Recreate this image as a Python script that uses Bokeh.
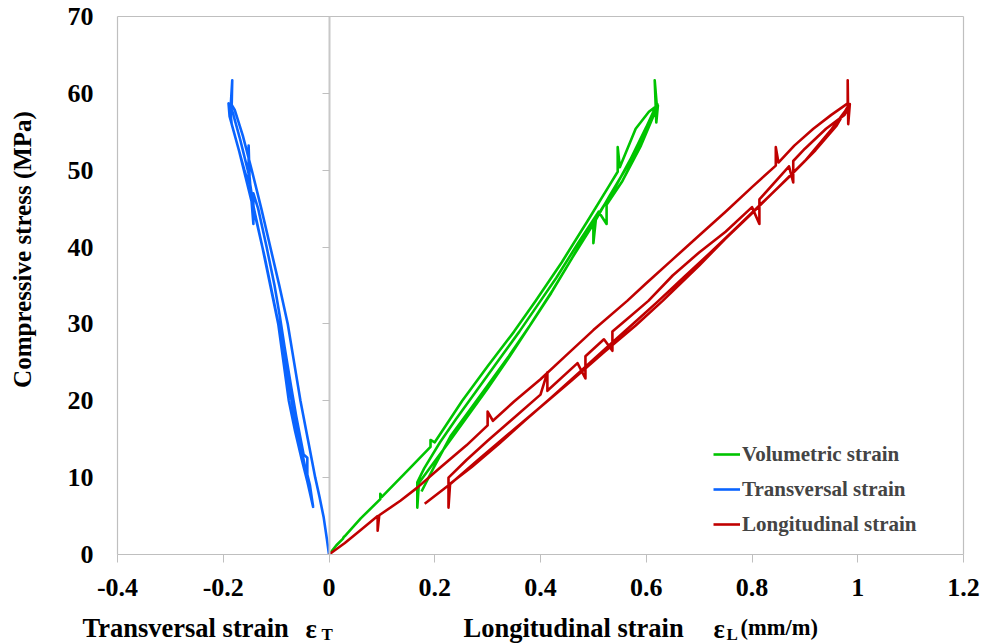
import math
from bokeh.plotting import figure
from bokeh.models import (FixedTicker, LinearAxis, Label, Legend, LegendItem,
                          Range1d)
from bokeh.embed import file_html
from bokeh.resources import INLINE

FONT = "Liberation Serif"
GRAY = "#BFBFBF"

# ---------------- data ----------------
x_ticks = [-0.4, -0.2, 0, 0.2, 0.4, 0.6, 0.8, 1.0, 1.2]
x_tick_labels = ["-0.4", "-0.2", "0", "0.2", "0.4", "0.6", "0.8", "1", "1.2"]
y_ticks = [0, 10, 20, 30, 40, 50, 60, 70]
y_tick_labels = ["0", "10", "20", "30", "40", "50", "60", "70"]

series_names = ["Volumetric strain", "Transversal strain", "Longitudinal strain"]
series_colors = ["#00C400", "#0A64FF", "#C00000"]

# Volumetric strain (load / unload cycles)
vol_x = [0, 0.014, 0.027, 0.027, 0.03, 0.06, 0.097, 0.097, 0.10, 0.154, 0.192, 0.192, 0.20,
         0.252, 0.30, 0.35, 0.391, 0.44, 0.489, 0.53, 0.546, 0.546, 0.55, 0.58, 0.605, 0.62,
         0.616, 0.619, 0.622,
         0.612, 0.59, 0.555, 0.525, 0.525, 0.51, 0.47, 0.43, 0.40, 0.36, 0.32, 0.28, 0.24,
         0.21, 0.18, 0.167, 0.167, 0.17,
         0.19, 0.22, 0.26, 0.30, 0.34, 0.38, 0.42, 0.46, 0.500, 0.500, 0.505, 0.54, 0.57,
         0.60, 0.618,
         0.621, 0.60, 0.57, 0.53, 0.50, 0.46, 0.423, 0.38, 0.34, 0.300, 0.26, 0.230, 0.198,
         0.175]
vol_y = [0, 1.2, 2.1, 2.2, 2.4, 4.7, 7.2, 7.9, 7.5, 11.3, 14.0, 14.9, 14.6,
         20.0, 24.5, 29.0, 33.0, 38.0, 43.4, 48.0, 49.8, 53.0, 50.4, 55.4, 57.6, 58.4,
         61.7, 56.2, 58.4,
         56.8, 53.2, 48.6, 45.5, 43.0, 44.6, 40.4, 36.0, 33.0, 29.0, 25.2, 21.4, 17.6,
         14.6, 11.2, 9.4, 6.1, 9.3,
         11.2, 14.0, 17.8, 21.6, 25.6, 29.8, 34.0, 38.6, 43.2, 40.5, 43.8, 47.6, 51.4,
         55.6, 58.3,
         58.6, 55.0, 51.2, 46.6, 43.0, 38.6, 34.4, 29.8, 25.8, 22.0, 18.2, 15.4, 11.3,
         8.2]

# Transversal strain
tra_x = [0, -0.004, -0.010, -0.018, -0.026, -0.040, -0.054, -0.066, -0.078, -0.094,
         -0.111, -0.128, -0.146, -0.163, -0.178, -0.184, -0.183, -0.186, -0.190,
         -0.188, -0.176, -0.160, -0.152, -0.152, -0.150, -0.142, -0.126, -0.111, -0.096,
         -0.086, -0.076, -0.064, -0.052, -0.041, -0.030,
         -0.036, -0.041, -0.041, -0.048, -0.062, -0.072, -0.084, -0.093, -0.103, -0.118,
         -0.134, -0.143, -0.143, -0.150, -0.168, -0.182, -0.188,
         -0.184, -0.170, -0.152, -0.136, -0.121, -0.106, -0.091, -0.080, -0.068, -0.056,
         -0.044, -0.034]
tra_y = [0, 2.0, 4.8, 7.5, 10.0, 15.0, 20.0, 25.0, 30.0, 35.0,
         40.0, 45.0, 50.0, 54.5, 57.8, 58.5, 61.7, 58.2, 58.7,
         57.0, 54.0, 50.0, 48.3, 53.2, 48.6, 45.0, 40.0, 35.0, 30.0,
         25.0, 20.0, 16.0, 12.5, 9.5, 6.2,
         9.0, 10.4, 12.6, 13.0, 18.0, 22.0, 27.0, 31.0, 35.0, 40.0,
         45.0, 47.0, 43.0, 49.0, 54.0, 57.5, 58.4,
         56.0, 52.5, 47.5, 43.0, 38.5, 33.5, 28.5, 23.5, 19.0, 15.0,
         11.0, 7.5]

# Longitudinal strain
lon_x = [0, 0.03, 0.06, 0.092, 0.092, 0.095, 0.135, 0.167, 0.21, 0.26, 0.30, 0.30, 0.31,
         0.35, 0.40, 0.45, 0.50, 0.564, 0.60, 0.65, 0.70, 0.75, 0.80, 0.845, 0.845, 0.85,
         0.88, 0.916, 0.95, 0.981, 0.981, 0.982, 0.985,
         0.975, 0.94, 0.90, 0.878, 0.878, 0.87, 0.814, 0.814, 0.80, 0.75, 0.70, 0.65, 0.604,
         0.56, 0.536, 0.536, 0.52, 0.485, 0.485, 0.47, 0.413, 0.413, 0.40, 0.35, 0.30, 0.26,
         0.226, 0.226, 0.229,
         0.27, 0.32, 0.37, 0.42, 0.47, 0.52, 0.57, 0.62, 0.67, 0.72, 0.77, 0.82, 0.87,
         0.92, 0.96, 0.983,
         0.984, 0.95, 0.90, 0.85, 0.80, 0.75, 0.70, 0.631, 0.58, 0.52, 0.46, 0.40, 0.34,
         0.28, 0.23, 0.181]
lon_y = [0, 1.5, 3.2, 5.0, 3.1, 5.1, 7.0, 8.7, 11.3, 14.2, 16.8, 18.6, 17.4,
         19.9, 22.8, 26.0, 29.2, 33.0, 35.3, 38.4, 41.5, 44.6, 47.8, 50.6, 53.0, 51.0,
         53.2, 55.4, 57.2, 58.7, 61.7, 56.0, 58.6,
         57.2, 55.4, 52.8, 51.2, 48.4, 50.5, 46.2, 43.0, 45.2, 42.0, 39.3, 36.3, 33.0,
         30.4, 29.0, 26.5, 28.0, 25.8, 22.9, 24.9, 21.3, 23.7, 20.8, 17.8, 14.8, 12.3,
         10.0, 6.1, 9.2,
         11.4, 14.3, 17.4, 20.4, 23.5, 26.6, 29.7, 32.8, 36.0, 39.2, 42.5, 45.8, 49.1,
         52.6, 55.8, 58.5,
         58.4, 55.3, 51.2, 47.8, 44.4, 41.1, 37.6, 33.0, 29.8, 26.3, 22.7, 19.2, 15.7,
         12.2, 9.2, 6.6]

# ---------------- layout (page pixels of the plot box) ----------------
W, H = 981, 643
BOX_L, BOX_R, BOX_T, BOX_B = 117, 963, 16, 554
X0, X1 = x_ticks[0], x_ticks[-1]
Y0, Y1 = y_ticks[0], y_ticks[-1]
sx = (BOX_R - BOX_L) / (X1 - X0)
sy = (BOX_B - BOX_T) / (Y1 - Y0)

def dx(px):
    return X0 + (px - BOX_L) / sx

def dy(py):
    return Y0 + (BOX_B - py) / sy

p = figure(width=W, height=H,
           x_range=Range1d(dx(0), dx(W)), y_range=Range1d(dy(H), dy(0)),
           output_backend="svg", toolbar_location=None,
           x_axis_location=None, y_axis_location=None,
           min_border_left=0, min_border_right=0, min_border_top=0, min_border_bottom=0)
p.xgrid.visible = False
p.ygrid.visible = False
p.outline_line_color = None
p.background_fill_color = "white"
p.border_fill_color = "white"

label_kw = dict(major_label_text_font=FONT, major_label_text_font_style="bold",
                major_label_text_font_size="26px", major_label_text_color="black")

# bottom axis (y = 0)
xa = LinearAxis(fixed_location=Y0, bounds=(X0, X1),
                ticker=FixedTicker(ticks=x_ticks, minor_ticks=[]),
                major_label_overrides={t: s for t, s in zip(x_ticks, x_tick_labels)},
                major_tick_out=8, major_tick_in=0, major_tick_line_color=GRAY,
                minor_tick_line_color=None, axis_line_color=GRAY, axis_line_width=1.2,
                major_label_standoff=16, **label_kw)
p.add_layout(xa, "below")

# left axis: labels only
ya = LinearAxis(fixed_location=X0, bounds=(Y0, Y1),
                ticker=FixedTicker(ticks=y_ticks, minor_ticks=[]),
                major_label_overrides={t: s for t, s in zip(y_ticks, y_tick_labels)},
                major_tick_out=0, major_tick_in=0, major_tick_line_color=None,
                minor_tick_line_color=None, axis_line_color=GRAY, axis_line_width=1.2,
                major_label_standoff=24, **label_kw)
p.add_layout(ya, "left")

# vertical axis crossing at x = 0 (ticks only)
zax = LinearAxis(fixed_location=0, bounds=(Y0, Y1),
                 ticker=FixedTicker(ticks=y_ticks, minor_ticks=[]),
                 major_label_overrides={t: "" for t in y_ticks},
                 major_tick_out=7, major_tick_in=0, major_tick_line_color=GRAY,
                 minor_tick_line_color=None, axis_line_color="#C8C8C8",
                 axis_line_width=2)
p.add_layout(zax, "left")

# top and right edges of the plot box
top = LinearAxis(fixed_location=Y1, bounds=(X0, X1), ticker=FixedTicker(ticks=[], minor_ticks=[]),
                 axis_line_color=GRAY, axis_line_width=1.2, major_tick_line_color=None,
                 minor_tick_line_color=None)
p.add_layout(top, "above")
right = LinearAxis(fixed_location=X1, bounds=(Y0, Y1), ticker=FixedTicker(ticks=[], minor_ticks=[]),
                   axis_line_color=GRAY, axis_line_width=1.2, major_tick_line_color=None,
                   minor_tick_line_color=None)
p.add_layout(right, "right")

renderers = []
for xs, ys, c in [(vol_x, vol_y, series_colors[0]),
                  (tra_x, tra_y, series_colors[1]),
                  (lon_x, lon_y, series_colors[2])]:
    r = p.line(xs, ys, line_color=c, line_width=2.6, line_join="round")
    renderers.append(r)

legend = Legend(items=[LegendItem(label=n, renderers=[r]) for n, r in zip(series_names, renderers)],
                location=(713, 104), border_line_color=None, background_fill_alpha=0,
                label_text_font=FONT, label_text_font_style="bold",
                label_text_font_size="21px", glyph_width=27, glyph_height=30,
                label_height=30, spacing=5, padding=0, margin=0, label_standoff=2)
p.add_layout(legend)

def lab(text, px, py, size, align="left", angle=0.0):
    p.add_layout(Label(x=dx(px), y=dy(py), text=text, text_font=FONT,
                       text_font_style="bold", text_font_size=size,
                       text_align=align, text_baseline="middle", angle=angle,
                       text_color="black"))

lab("Compressive stress (MPa)", 22, 249, "25px", align="center", angle=math.pi / 2)
lab("Transversal strain", 82, 627, "26.5px")
lab("\u03b5", 305, 628, "26.5px")
lab("T", 321, 634, "17px")
lab("Longitudinal strain", 463, 627, "26.5px")
lab("\u03b5", 713, 628, "26.5px")
lab("L", 726, 634, "17px")
lab("(mm/m)", 740, 627, "22.5px")

open("out.html", "w").write(file_html(p, INLINE))
